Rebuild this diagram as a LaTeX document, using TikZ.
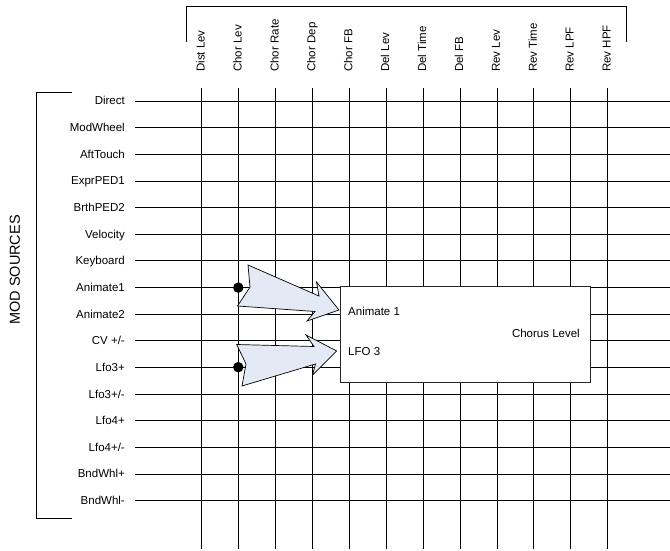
\documentclass[tikz,border=0pt]{standalone}
\usepackage{fontspec}
\setmainfont{Liberation Sans}
\definecolor{arrowfill}{RGB}{227,234,246}
\begin{document}
\begin{tikzpicture}[x=1pt,y=-1pt,
  lab/.style={font=\fontsize{11.5}{13}\selectfont, inner sep=0pt},
  gridline/.style={line width=0.8pt, black},
  bracket/.style={line width=1pt, black},
  blockarrow/.style={draw=black, line width=0.7pt, fill=arrowfill, line join=miter},
  dotnode/.style={circle, fill=black, inner sep=0pt, minimum size=10.5pt}
]
\useasboundingbox (0,0) rectangle (670,551);
% columns
\foreach \name [count=\i from 0] in {Dist Lev, Chor Lev, Chor Rate, Chor Dep, Chor FB, Del Lev, Del Time, Del FB, Rev Lev, Rev Time, Rev LPF, Rev HPF} {
  \pgfmathsetmacro\cx{201.7+36.9*\i}
  \node[lab, rotate=90, anchor=base west] (c\i) at (\cx+3,72) {\name};
  \draw[gridline] (\cx,88) -- (\cx,549);
}
% rows
\foreach \name [count=\i from 0] in {Direct, ModWheel, AftTouch, ExprPED1, BrthPED2, Velocity, Keyboard, Animate1, Animate2, CV +/-, Lfo3+, Lfo3+/-, Lfo4+, Lfo4+/-, BndWhl+, BndWhl-} {
  \pgfmathsetmacro\ry{101+26.64*\i}
  \node[lab, anchor=base east] (r\i) at (125,\ry+4) {\name};
  \draw[gridline] (135,\ry) -- (670,\ry);
}
% brackets
\draw[bracket] (186,42) -- (186,7) -- (626,7) -- (626,42);
\draw[bracket] (72,93) -- (36.7,93) -- (36.7,518) -- (72,518);
\node[font=\fontsize{14.5}{16}\selectfont, rotate=90, inner sep=0pt] (ms) at (15,270) {MOD SOURCES};
% box
\node[draw=black!85, line width=0.8pt, fill=white, minimum width=250pt, minimum height=96pt, anchor=north west, inner sep=0pt] (box) at (340,285.7) {};
\node[lab, anchor=base west] (t1) at (348,315) {Animate 1};
\node[lab, anchor=base west] (t2) at (348,355) {LFO 3};
\node[lab, anchor=base east] (t3) at (580,337) {Chorus Level};
% arrows
\draw[blockarrow] (248,265) -- (319,296) -- (316.5,282) -- (339,310) -- (307,321) -- (315,311.5) -- (237.5,306) -- (250,287) -- cycle;
\draw[blockarrow] (236.7,344.5) -- (314,346.5) -- (306,335) -- (336.7,351) -- (312.5,375) -- (315.5,364) -- (242,386) -- (246,364) -- cycle;
% dots
\node[dotnode] (d1) at (238.3,287.6) {};
\node[dotnode] (d2) at (238.3,367.2) {};
\end{tikzpicture}
\end{document}
